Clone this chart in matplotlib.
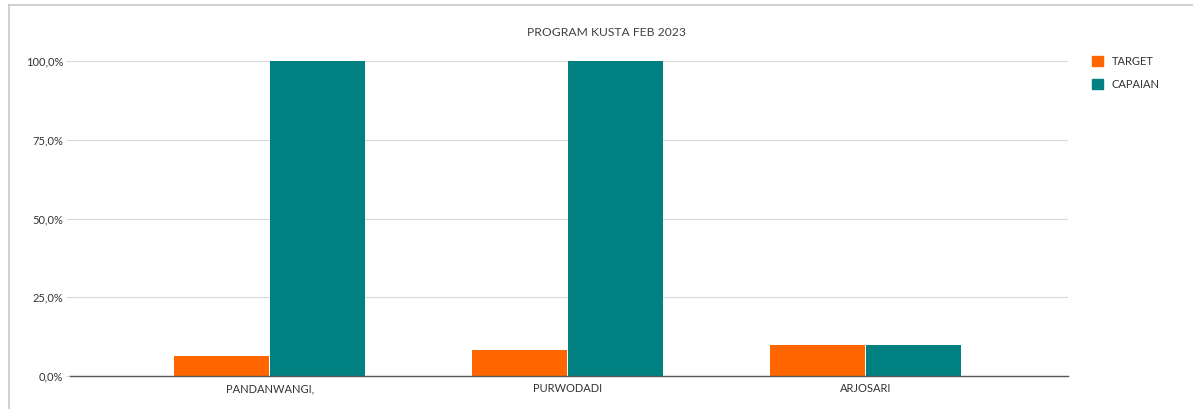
import matplotlib
matplotlib.use("Agg")
import matplotlib.pyplot as plt
import numpy as np
from matplotlib.ticker import FuncFormatter
from matplotlib.lines import Line2D

categories = ["PANDANWANGI,", "PURWODADI", "ARJOSARI"]
target = [0.065, 0.083, 0.098]
capaian = [1.0, 1.0, 0.098]
series_names = ["TARGET", "CAPAIAN"]
colors = ["#FF6600", "#008080"]

plt.rcParams['font.family'] = ['Lato', 'DejaVu Sans']

W, H = 1194, 409
fig = plt.figure(figsize=(W/100, H/100), dpi=100)
ax = fig.add_axes([70/W, 33/H, (1068-70)/W, (376-61)/H])

x = np.arange(len(categories))
bw = 0.318
gap = 0.004
ax.bar(x - bw/2 - gap/2, target, bw, color=colors[0], label=series_names[0], zorder=3)
ax.bar(x + bw/2 + gap/2, capaian, bw, color=colors[1], label=series_names[1], zorder=3)

ax.set_xlim(-0.67, 2.68)
ax.set_ylim(0, 1.0)
ax.set_yticks([0, 0.25, 0.5, 0.75, 1.0])
ax.yaxis.set_major_formatter(FuncFormatter(lambda v, p: f"{v*100:.1f}%".replace('.', ',')))
ax.set_xticks(x)
ax.set_xticklabels(categories)
ax.grid(axis='y', color='#d9d9d9', linewidth=0.8, zorder=0)
for s in ['top', 'right', 'left']:
    ax.spines[s].set_visible(False)
ax.spines['bottom'].set_color('#595959')
ax.spines['bottom'].set_linewidth(1.0)
ax.spines['bottom'].set_zorder(4)
ax.tick_params(axis='y', length=3, color='#d9d9d9', labelsize=8, labelcolor='#333333', pad=2)
ax.tick_params(axis='x', length=0, labelsize=8, labelcolor='#333333', pad=5)

fig.text(606/W, 1 - 33/H, "PROGRAM KUSTA FEB 2023", ha='center', va='center', fontsize=8.7, color='#404040')

handles = [plt.Rectangle((0, 0), 1, 1, color=c) for c in colors]
leg = fig.legend(handles, series_names, loc='upper left', bbox_to_anchor=(1082/W, 1 - 46/H),
                 frameon=False, fontsize=8, handlelength=1.0, handleheight=1.0,
                 handletextpad=0.8, labelspacing=1.1)
for t in leg.get_texts():
    t.set_color('#333333')

# outer border
fig.add_artist(Line2D([8.5/W, 8.5/W], [0, 1 - 5/H], transform=fig.transFigure, color='#c8c8c8', lw=1.2))
fig.add_artist(Line2D([8.5/W, 1192/W], [1 - 5/H, 1 - 5/H], transform=fig.transFigure, color='#c8c8c8', lw=1.2))

fig.savefig("out.png", dpi=100)
